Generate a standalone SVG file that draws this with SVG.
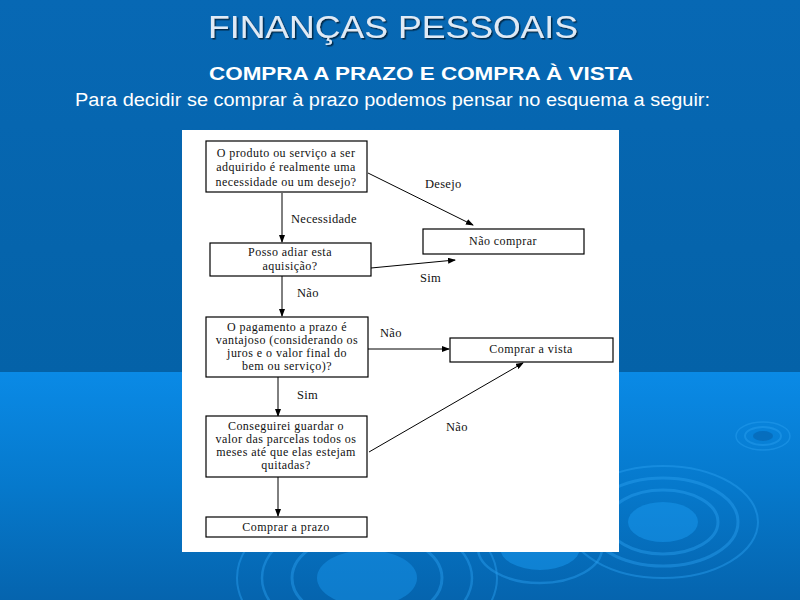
<svg xmlns="http://www.w3.org/2000/svg" width="800" height="600" viewBox="0 0 800 600">
<defs>
<linearGradient id="lower" x1="0" y1="0" x2="0" y2="1">
<stop offset="0" stop-color="#0a8ae6"/>
<stop offset="0.5" stop-color="#0679cc"/>
<stop offset="1" stop-color="#0564ae"/>
</linearGradient>
<linearGradient id="upper" x1="0" y1="0" x2="0" y2="1">
<stop offset="0" stop-color="#0768b4"/>
<stop offset="1" stop-color="#0462a8"/>
</linearGradient>
<marker id="ah" markerWidth="8" markerHeight="6" refX="7" refY="3" orient="auto" markerUnits="userSpaceOnUse">
<path d="M0,0 L8,3 L0,6 Z" fill="#000"/>
</marker>
<filter id="sh" x="-5%" y="-20%" width="110%" height="140%">
<feDropShadow dx="1.5" dy="1.5" stdDeviation="0.6" flood-color="#002040" flood-opacity="0.9"/>
</filter>
</defs>
<style>
.box{fill:#fff;stroke:#000;stroke-width:1.2}
.t{font-family:"Liberation Serif","Times New Roman",serif;font-size:12px;letter-spacing:0.45px;fill:#111;text-anchor:middle}
.l{font-family:"Liberation Serif","Times New Roman",serif;font-size:12.5px;letter-spacing:0.3px;fill:#111}
.c{stroke:#000;stroke-width:1;fill:none;marker-end:url(#ah)}
.rip{fill:none;stroke:#2aa0f0;stroke-opacity:0.45}
</style>
<rect x="0" y="0" width="800" height="373" fill="url(#upper)"/>
<rect x="0" y="372" width="800" height="228" fill="url(#lower)"/>
<g id="ripples">
<ellipse cx="663" cy="522" rx="35" ry="20" fill="#1a9af0" fill-opacity="0.5"/>
<ellipse class="rip" cx="663" cy="522" rx="55" ry="32" stroke-width="3"/>
<ellipse class="rip" cx="663" cy="522" rx="75" ry="44" stroke-width="3"/>
<ellipse class="rip" cx="663" cy="522" rx="95" ry="56" stroke-width="2"/>
<ellipse cx="763" cy="436" rx="10" ry="5" fill="#0566b4" fill-opacity="0.7"/>
<ellipse class="rip" cx="763" cy="436" rx="18" ry="9" stroke-width="2"/>
<ellipse class="rip" cx="763" cy="436" rx="27" ry="14" stroke-width="1.5"/>
<ellipse cx="367" cy="578" rx="50" ry="28" fill="#1a9af0" fill-opacity="0.45"/>
<ellipse class="rip" cx="367" cy="578" rx="75" ry="45" stroke-width="3"/>
<ellipse class="rip" cx="367" cy="578" rx="105" ry="62" stroke-width="2.5"/>
<ellipse class="rip" cx="367" cy="578" rx="130" ry="80" stroke-width="2"/>
<ellipse cx="540" cy="548" rx="40" ry="22" fill="#1a9af0" fill-opacity="0.5"/>
<ellipse class="rip" cx="540" cy="548" rx="62" ry="35" stroke-width="2.5"/>
</g>
<g id="header">
<text x="393" y="38" font-family="Liberation Sans, Arial, sans-serif" font-size="32" fill="#dfeaf6" text-anchor="middle" textLength="370" lengthAdjust="spacingAndGlyphs" filter="url(#sh)">FINANÇAS PESSOAIS</text>
<text x="421" y="80" font-family="Liberation Sans, Arial, sans-serif" font-size="18" font-weight="bold" fill="#fff" text-anchor="middle" textLength="424" lengthAdjust="spacingAndGlyphs">COMPRA A PRAZO E COMPRA À VISTA</text>
<text x="75" y="106" font-family="Liberation Sans, Arial, sans-serif" font-size="18" fill="#fff" textLength="635" lengthAdjust="spacingAndGlyphs">Para decidir se comprar à prazo podemos pensar no esquema a seguir:</text>
</g>
<rect id="panel" x="182" y="130" width="437" height="422" fill="#fff"/>
<g id="connectors">
<line class="c" x1="282" y1="193" x2="282" y2="242"/>
<line class="c" x1="368" y1="173" x2="473" y2="225"/>
<line class="c" x1="371" y1="268" x2="455" y2="260"/>
<line class="c" x1="282" y1="276" x2="282" y2="316"/>
<line class="c" x1="368" y1="349" x2="449" y2="349"/>
<line class="c" x1="278" y1="377" x2="278" y2="416"/>
<line class="c" x1="369" y1="452" x2="523" y2="363"/>
<line class="c" x1="278" y1="477" x2="278" y2="516"/>
<text class="l" x="291" y="223">Necessidade</text>
<text class="l" x="425" y="188">Desejo</text>
<text class="l" x="420" y="282">Sim</text>
<text class="l" x="297" y="297">Não</text>
<text class="l" x="380" y="337">Não</text>
<text class="l" x="297" y="399">Sim</text>
<text class="l" x="446" y="431">Não</text>
</g>
<g id="n1">
<rect class="box" x="206" y="141" width="161" height="51"/>
<text class="t" x="286" y="157">O produto ou serviço a ser</text>
<text class="t" x="286" y="171">adquirido é realmente uma</text>
<text class="t" x="286" y="186">necessidade ou um desejo?</text>
</g>
<g id="n2">
<rect class="box" x="210" y="243" width="161" height="33"/>
<text class="t" x="290" y="256">Posso adiar esta</text>
<text class="t" x="290" y="270">aquisição?</text>
</g>
<g id="n3">
<rect class="box" x="423" y="229" width="161" height="25"/>
<text class="t" x="503" y="245">Não comprar</text>
</g>
<g id="n4">
<rect class="box" x="206" y="317" width="162" height="60"/>
<text class="t" x="287" y="331">O pagamento a prazo é</text>
<text class="t" x="287" y="344">vantajoso (considerando os</text>
<text class="t" x="287" y="357">juros e o valor final do</text>
<text class="t" x="287" y="370">bem ou serviço)?</text>
</g>
<g id="n5">
<rect class="box" x="450" y="338" width="163" height="24"/>
<text class="t" x="531" y="353">Comprar a vista</text>
</g>
<g id="n6">
<rect class="box" x="206" y="416" width="161" height="61"/>
<text class="t" x="286" y="430">Conseguirei guardar o</text>
<text class="t" x="286" y="443">valor das parcelas todos os</text>
<text class="t" x="286" y="456">meses até que elas estejam</text>
<text class="t" x="286" y="469">quitadas?</text>
</g>
<g id="n7">
<rect class="box" x="206" y="517" width="161" height="20"/>
<text class="t" x="286" y="531">Comprar a prazo</text>
</g>
</svg>
